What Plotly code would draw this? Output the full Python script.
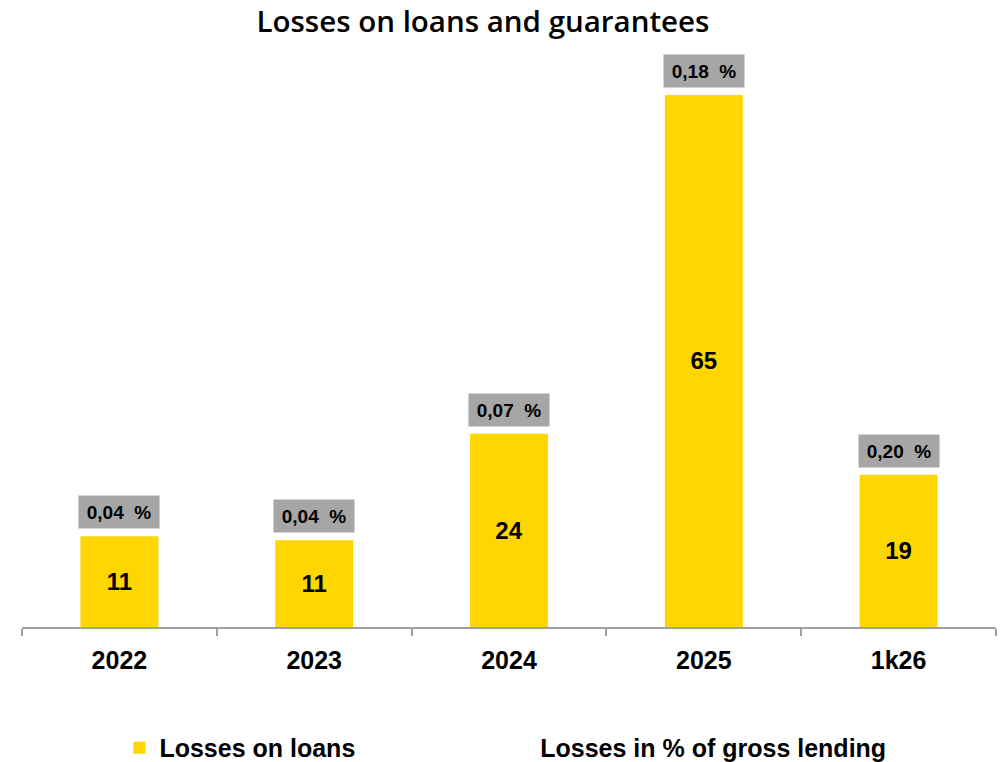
import plotly.graph_objects as go

categories = ["2022", "2023", "2024", "2025", "1k26"]
losses = [11.1, 10.6, 23.6, 65.0, 18.6]
loss_labels = ["11", "11", "24", "65", "19"]
pct_values = [0.04, 0.04, 0.07, 0.18, 0.20]
pct_labels = ["0,04 %", "0,04 %", "0,07 %", "0,18 %", "0,20 %"]

YELLOW = "#FFD600"
GREY_BOX = "#A6A6A6"
AXIS_GREY = "#A0A0A0"
LEG_FONT = dict(family="Liberation Sans", size=25, color="black", weight="bold")

fig = go.Figure()
fig.add_trace(go.Bar(
    x=categories, y=losses, name="Losses on loans",
    marker=dict(color=YELLOW, line=dict(width=0)),
    width=0.40,
    text=loss_labels, textposition="inside", insidetextanchor="middle",
    textfont=dict(family="Liberation Sans", size=24, color="black", weight="bold"),
    textangle=0, legend="legend",
))
fig.add_trace(go.Scatter(
    x=categories, y=pct_values, name="Losses in % of gross lending",
    mode="lines", line=dict(color="rgba(0,0,0,0)", width=0),
    yaxis="y2", hoverinfo="skip", legend="legend2",
))

for i, (v, t) in enumerate(zip(losses, pct_labels)):
    fig.add_annotation(
        x=i, y=v, xref="x", yref="y", text=f"<b>{t.replace(' ', '&nbsp;&nbsp;')}</b>",
        showarrow=False, yanchor="bottom", yshift=7,
        bgcolor=GREY_BOX, width=78, height=30, borderpad=1,
        font=dict(family="Liberation Sans", size=19, color="black"),
    )

fig.update_layout(
    width=1002, height=762,
    margin=dict(l=22, r=6, t=54, b=135, autoexpand=False),
    paper_bgcolor="white", plot_bgcolor="white",
    title=dict(text="Losses on loans and guarantees", x=0.482, xanchor="center",
               y=0.971, yanchor="middle",
               font=dict(family="Open Sans", size=29.5, color="black", weight=600)),
    xaxis=dict(
        type="category", range=[-0.5, 4.5],
        showline=True, linecolor=AXIS_GREY, linewidth=2,
        ticks="outside", tickson="boundaries", ticklen=7, tickcolor=AXIS_GREY, tickwidth=2,
        tickfont=dict(family="Liberation Sans", size=25, color="black", weight="bold"),
        ticklabelstandoff=10, showgrid=False, zeroline=False,
    ),
    yaxis=dict(range=[0, 70], visible=False, showgrid=False, zeroline=False),
    yaxis2=dict(overlaying="y", range=[0, 1], visible=False, showgrid=False),
    showlegend=True,
    legend=dict(
        orientation="h", x=0.10, xanchor="left", y=-0.211, yanchor="middle",
        font=LEG_FONT,
    ),
    legend2=dict(
        orientation="h", x=0.491, xanchor="left", y=-0.211, yanchor="middle",
        font=LEG_FONT,
    ),
    bargap=0.6,
)

fig.write_html("out.html")
